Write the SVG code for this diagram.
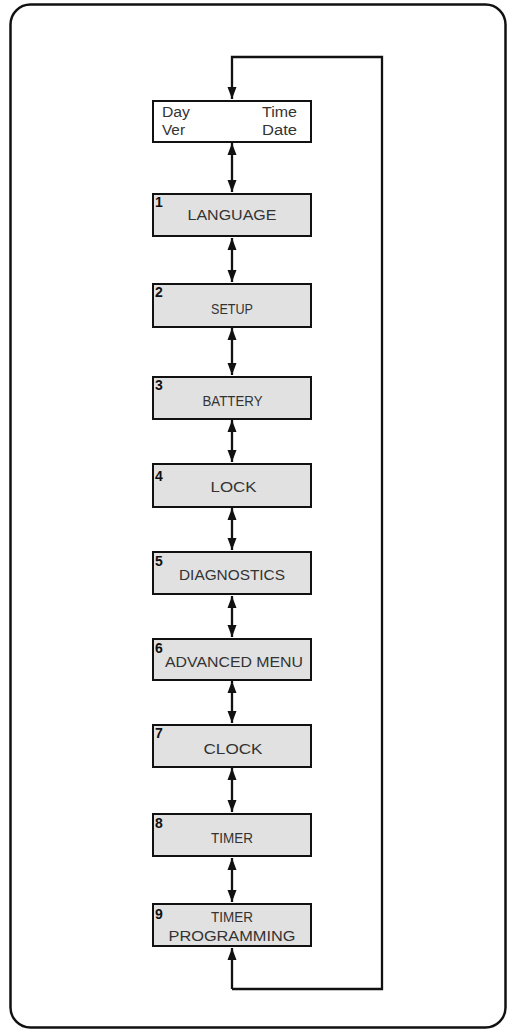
<svg xmlns="http://www.w3.org/2000/svg" width="509" height="1030" viewBox="0 0 509 1030">
<style>
.frame{fill:#fff;stroke:#111;stroke-width:2.5}
.box{fill:#e1e1e1;stroke:#111;stroke-width:2}
.wbox{fill:#fff;stroke:#111;stroke-width:2}
.lbl{font-family:"Liberation Sans",Arial,sans-serif;font-size:15px;fill:#333;text-anchor:middle}
.tl{font-family:"Liberation Sans",Arial,sans-serif;font-size:14px;fill:#333}
.num{font-family:"Liberation Sans",Arial,sans-serif;font-size:14px;font-weight:bold;fill:#111}
.conn{fill:none;stroke:#111;stroke-width:2.3}
</style>
<defs>
<marker id="ah" markerUnits="userSpaceOnUse" markerWidth="13" markerHeight="10" refX="12" refY="4.5" orient="auto-start-reverse" viewBox="0 0 13 9">
<path d="M0,0 L12,4.5 L0,9 z" fill="#111"/>
</marker>
</defs>
<rect class="frame" x="10.5" y="4.5" width="495" height="1023" rx="20"/>
<g id="connectors">
<path class="conn" d="M232,143 L232,192" marker-start="url(#ah)" marker-end="url(#ah)"/>
<path class="conn" d="M232,238 L232,282" marker-start="url(#ah)" marker-end="url(#ah)"/>
<path class="conn" d="M232,328 L232,375" marker-start="url(#ah)" marker-end="url(#ah)"/>
<path class="conn" d="M232,420 L232,462" marker-start="url(#ah)" marker-end="url(#ah)"/>
<path class="conn" d="M232,508 L232,550" marker-start="url(#ah)" marker-end="url(#ah)"/>
<path class="conn" d="M232,596 L232,637" marker-start="url(#ah)" marker-end="url(#ah)"/>
<path class="conn" d="M232,681 L232,723" marker-start="url(#ah)" marker-end="url(#ah)"/>
<path class="conn" d="M232,768 L232,812" marker-start="url(#ah)" marker-end="url(#ah)"/>
<path class="conn" d="M232,858 L232,902" marker-start="url(#ah)" marker-end="url(#ah)"/>
<path class="conn" d="M232,989 L382,989 L382,57 L232,57 L232,99" marker-end="url(#ah)"/>
<path class="conn" d="M232,989 L232,948" marker-end="url(#ah)"/>
</g>
<g id="home">
<rect class="wbox" x="153" y="101" width="158" height="41"/>
<text class="tl" x="162" y="117" textLength="28" lengthAdjust="spacingAndGlyphs">Day</text>
<text class="tl" x="262" y="117" textLength="35" lengthAdjust="spacingAndGlyphs">Time</text>
<text class="tl" x="162" y="135" textLength="23" lengthAdjust="spacingAndGlyphs">Ver</text>
<text class="tl" x="262" y="135" textLength="35" lengthAdjust="spacingAndGlyphs">Date</text>
</g>
<g id="n1">
<rect class="box" x="153" y="194" width="158" height="42"/>
<text class="num" x="155" y="207">1</text>
<text class="lbl" x="232" y="220" textLength="89" lengthAdjust="spacingAndGlyphs">LANGUAGE</text>
</g>
<g id="n2">
<rect class="box" x="153" y="284" width="158" height="43"/>
<text class="num" x="155" y="297">2</text>
<text class="lbl" x="232" y="314" textLength="42" lengthAdjust="spacingAndGlyphs">SETUP</text>
</g>
<g id="n3">
<rect class="box" x="153" y="377" width="158" height="42"/>
<text class="num" x="155" y="390">3</text>
<text class="lbl" x="232.5" y="406" textLength="60" lengthAdjust="spacingAndGlyphs">BATTERY</text>
</g>
<g id="n4">
<rect class="box" x="153" y="464" width="158" height="43"/>
<text class="num" x="155" y="481">4</text>
<text class="lbl" x="233.5" y="492" textLength="46" lengthAdjust="spacingAndGlyphs">LOCK</text>
</g>
<g id="n5">
<rect class="box" x="153" y="552" width="158" height="42"/>
<text class="num" x="155" y="566">5</text>
<text class="lbl" x="232" y="580" textLength="106" lengthAdjust="spacingAndGlyphs">DIAGNOSTICS</text>
</g>
<g id="n6">
<rect class="box" x="153" y="639" width="158" height="41"/>
<text class="num" x="155" y="653">6</text>
<text class="lbl" x="234" y="667" textLength="138" lengthAdjust="spacingAndGlyphs">ADVANCED MENU</text>
</g>
<g id="n7">
<rect class="box" x="153" y="725" width="158" height="42"/>
<text class="num" x="155" y="738">7</text>
<text class="lbl" x="233" y="754" textLength="59" lengthAdjust="spacingAndGlyphs">CLOCK</text>
</g>
<g id="n8">
<rect class="box" x="153" y="814" width="158" height="42"/>
<text class="num" x="155" y="828">8</text>
<text class="lbl" x="232" y="843" textLength="42" lengthAdjust="spacingAndGlyphs">TIMER</text>
</g>
<g id="n9">
<rect class="box" x="153" y="904" width="158" height="42"/>
<text class="num" x="155" y="919">9</text>
<text class="lbl" x="232" y="922" textLength="42" lengthAdjust="spacingAndGlyphs">TIMER</text>
<text class="lbl" x="232" y="941" textLength="127" lengthAdjust="spacingAndGlyphs">PROGRAMMING</text>
</g>
</svg>
